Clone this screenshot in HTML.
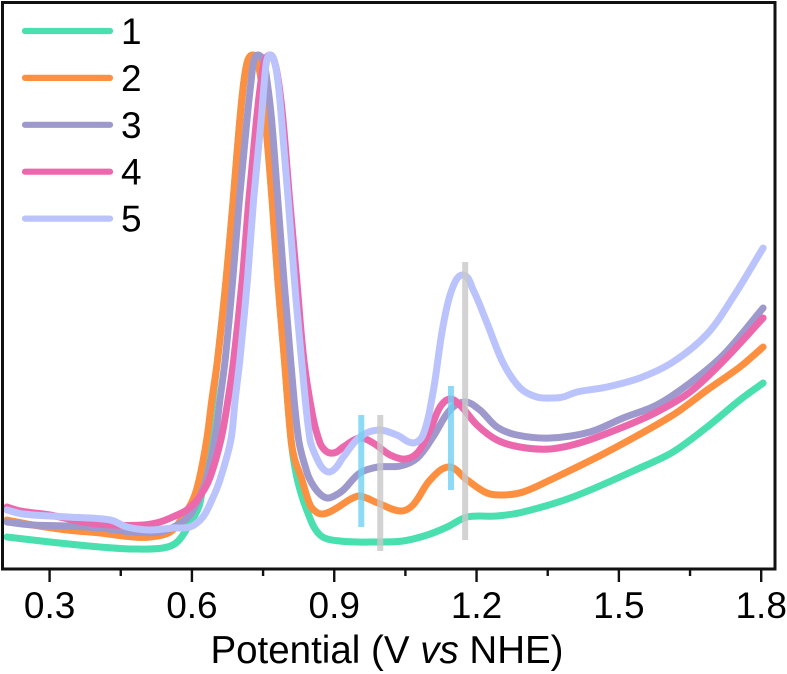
<!DOCTYPE html>
<html>
<head>
<meta charset="utf-8">
<style>
html,body{margin:0;padding:0;background:#fff;width:787px;height:674px;overflow:hidden}
svg{display:block}
text{font-family:"Liberation Sans",sans-serif;fill:#000}
</style>
</head>
<body>
<svg id="chart" width="787" height="674" viewBox="0 0 787 674" xmlns="http://www.w3.org/2000/svg"></svg>
<script>
const seriesNames = ['1', '2', '3', '4', '5'];
const seriesColors = ['#4adfae', '#fd9040', '#9d99cc', '#ec68ad', '#bac3fb'];
const majorTicks = [0.3, 0.6, 0.9, 1.2, 1.5, 1.8];
const minorTicks = [0.45, 0.75, 1.05, 1.35, 1.65];

const potentials1 = [.210,.301,.406,.476,.539,.569,.596,.617,.634,.644,.654,.672,.687,.701,.710,.718,.728,.737,.746,.755,.769,.781,.795,.809,.821,.842,.870,.912,.992,1.045,1.096,1.138,1.180,1.243,1.298,1.403,1.544,1.614,1.686,1.755,1.804];
const intensity1 = [32,27,22,20,21,27,46,66,129,169,209,289,369,449,489,509,514,509,489,449,369,289,209,129,92,59,34,28,27,28,34,42,52,53,57,72,101,117,142,169,186];

const potentials2 = [.210,.265,.337,.406,.476,.512,.554,.581,.602,.615,.631,.642,.654,.672,.687,.701,.710,.718,.728,.737,.746,.755,.769,.781,.795,.809,.817,.830,.849,.862,.874,.890,.912,.935,.954,.992,1.039,1.066,1.102,1.142,1.180,1.222,1.256,1.298,1.355,1.475,1.614,1.686,1.755,1.804];
const intensity2 = [49,44,39,36,32,32,37,52,69,89,129,169,209,289,369,449,489,509,514,509,489,449,369,289,209,129,109,92,64,57,55,57,63,70,73,66,58,64,89,102,89,76,74,77,89,117,154,179,202,222];

const potentials3 = [.210,.265,.337,.406,.476,.533,.569,.596,.615,.630,.648,.659,.670,.686,.700,.716,.725,.731,.739,.750,.758,.768,.781,.794,.808,.825,.843,.855,.870,.885,.900,.919,.954,.992,1.039,1.075,1.108,1.144,1.176,1.207,1.243,1.285,1.355,1.439,1.509,1.580,1.650,1.720,1.804];
const intensity3 = [47,44,43,41,37,37,44,54,71,89,129,169,209,289,369,449,489,509,514,509,489,449,369,289,209,129,96,84,75,71,73,79,96,102,103,111,132,159,167,159,142,134,131,137,151,164,186,214,261];

const potentials4 = [.210,.238,.301,.371,.428,.497,.533,.569,.589,.611,.636,.661,.676,.688,.706,.720,.736,.746,.754,.765,.773,.782,.792,.806,.821,.836,.855,.870,.880,.891,.905,.919,.954,.982,1.018,1.050,1.077,1.102,1.123,1.144,1.165,1.201,1.243,1.291,1.355,1.424,1.509,1.580,1.650,1.720,1.804];
const intensity4 = [62,58,54,47,44,44,47,54,59,69,89,129,169,209,289,369,449,489,509,514,509,489,449,369,289,209,152,126,119,116,117,122,131,126,114,110,117,139,162,170,164,144,129,122,120,127,142,157,177,208,251];

const potentials5 = [.210,.244,.337,.428,.463,.512,.560,.596,.623,.642,.659,.682,.691,.701,.717,.730,.746,.753,.758,.765,.773,.781,.789,.803,.816,.831,.849,.862,.875,.889,.903,.919,.954,.992,1.032,1.066,1.087,1.108,1.129,1.150,1.172,1.193,1.222,1.256,1.292,1.327,1.361,1.382,1.412,1.475,1.544,1.614,1.686,1.741,1.804];
const intensity5 = [59,55,52,49,42,39,41,42,52,69,89,129,169,209,289,369,449,489,509,514,509,489,449,369,289,209,129,112,101,97,101,112,132,139,134,126,134,176,242,282,294,279,246,206,181,172,171,172,177,182,191,207,235,272,321];

const markerPotentials = [0.957, 0.997, 1.146, 1.176];
const markerTops = [154, 154, 183, 307];
const markerBottoms = [42, 18, 79, 29];
const markerColors = ['#6fd1f3', '#c8c8c8', '#6fd1f3', '#c8c8c8'];

const allPotentials = [potentials1, potentials2, potentials3, potentials4, potentials5];
const allIntensities = [intensity1, intensity2, intensity3, intensity4, intensity5];

const svg = document.getElementById('chart');
const NS = 'http://www.w3.org/2000/svg';
const xScale = v => 49.6 + (v - 0.3) * 474.4;
const yScale = i => 569 - i;

function make(tag, attrs, parent) {
  const el = document.createElementNS(NS, tag);
  for (const k in attrs) el.setAttribute(k, attrs[k]);
  (parent || svg).appendChild(el);
  return el;
}

function unitTangent(pts, i) {
  const a = pts[Math.max(i - 1, 0)], b = pts[Math.min(i + 1, pts.length - 1)];
  const dx = b[0] - a[0], dy = b[1] - a[1], len = Math.hypot(dx, dy) || 1;
  return [dx / len, dy / len];
}

function smoothPath(pts) {
  let d = 'M' + pts[0][0].toFixed(2) + ' ' + pts[0][1].toFixed(2);
  for (let i = 0; i < pts.length - 1; i++) {
    const p1 = pts[i], p2 = pts[i + 1];
    const seg = Math.hypot(p2[0] - p1[0], p2[1] - p1[1]) / 3;
    const t1 = unitTangent(pts, i), t2 = unitTangent(pts, i + 1);
    d += 'C' + (p1[0] + t1[0] * seg).toFixed(2) + ' ' + (p1[1] + t1[1] * seg).toFixed(2) + ' ' + (p2[0] - t2[0] * seg).toFixed(2) + ' ' + (p2[1] - t2[1] * seg).toFixed(2) + ' ' + p2[0].toFixed(2) + ' ' + p2[1].toFixed(2);
  }
  return d;
}

allPotentials.forEach((xs, s) => {
  const pts = xs.map((v, i) => [xScale(v), yScale(allIntensities[s][i])]);
  const path = make('path', {d: smoothPath(pts), fill: 'none', stroke: seriesColors[s], 'stroke-width': 7, 'stroke-linecap': 'round', 'stroke-linejoin': 'round'});
  
  
});

markerPotentials.forEach((v, i) => {
  const line = make('line', {x1: xScale(v), x2: xScale(v), y1: yScale(markerTops[i]), y2: yScale(markerBottoms[i]), stroke: markerColors[i], 'stroke-width': 6, 'stroke-opacity': 0.8});
  
  
});

const frame = make('rect', {x: 2.5, y: 2.5, width: 772.5, height: 566.5, fill: 'none', stroke: '#111', 'stroke-width': 3});



majorTicks.forEach(v => {
  const tick = make('line', {x1: xScale(v), x2: xScale(v), y1: 569, y2: 582, stroke: '#111', 'stroke-width': 2.4});
  
  
  const label = make('text', {x: xScale(v), y: 618, 'text-anchor': 'middle', 'font-size': 37});
  label.textContent = v.toFixed(1);
  
  
});

minorTicks.forEach(v => {
  const tick = make('line', {x1: xScale(v), x2: xScale(v), y1: 569, y2: 576, stroke: '#111', 'stroke-width': 2.4});
  
  
});

seriesNames.forEach((name, i) => {
  const y = 31 + i * 46.9;
  const key = make('line', {x1: 25, x2: 110, y1: y, y2: y, stroke: seriesColors[i], 'stroke-width': 6.2, 'stroke-linecap': 'round'});
  
  
  const label = make('text', {x: 121, y: y + 13, 'font-size': 37});
  label.textContent = name;
  
  
});
</script>
<svg width="787" height="674" viewBox="0 0 787 674" xmlns="http://www.w3.org/2000/svg" style="position:absolute;left:0;top:0">
  <text x="387" y="663" text-anchor="middle" font-size="38.5">Potential (V <tspan font-style="italic">vs</tspan> NHE)</text>
</svg>
</body>
</html>
